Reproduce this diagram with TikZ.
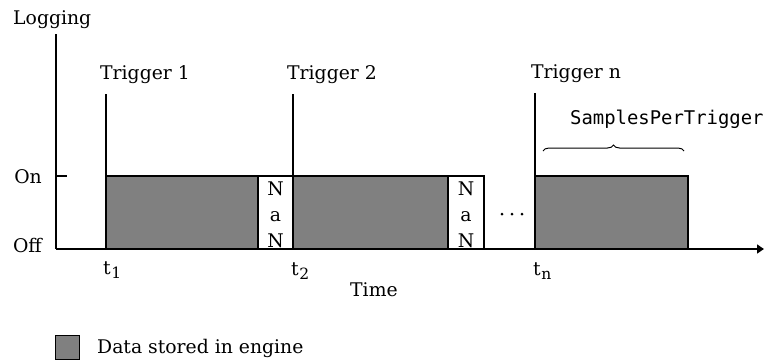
\documentclass[tikz,border=0pt]{standalone}
\usepackage{fontspec}
\setmainfont{DejaVu Serif}
\setmonofont{DejaVu Sans Mono}
\usetikzlibrary{decorations.pathreplacing,arrows.meta}
\newcommand{\subt}[1]{t\kern0.5pt\raisebox{-4pt}{\fontsize{15.5}{17}\selectfont #1}}
\begin{document}
\begin{tikzpicture}[x=1pt,y=-1pt,
  lbl/.style={inner sep=0pt,font=\fontsize{18.8}{21}\selectfont},
  ax/.style={line width=1.4pt},
  blk/.style={draw=black,line width=1.2pt,fill=black!50},
  nanbox/.style={draw=black,line width=1.2pt,fill=white},
  trig/.style={line width=1.1pt}]
\useasboundingbox (0,0) rectangle (764,360);
% axes
\coordinate (origin) at (56,249);
\coordinate (ytop) at (56,34);
\coordinate (xend) at (764,249);
\draw[ax] (ytop) -- (origin);
\draw[ax,-{Triangle[length=7pt,width=9pt]}] (origin) -- (xend);
\coordinate (ontick) at (56,176);
\coordinate (ontickend) at (67,176);
\draw[ax] (ontick) -- (ontickend);
% blocks
\draw[blk] (106,176) rectangle (258,249);
\draw[nanbox] (258,176) rectangle (293,249);
\draw[blk] (293,176) rectangle (448,249);
\draw[nanbox] (448,176) rectangle (484,249);
\draw[blk] (535,176) rectangle (688,249);
% trigger lines
\coordinate (tr1top) at (106,94); \coordinate (tr1bot) at (106,176);
\coordinate (tr2top) at (293,94); \coordinate (tr2bot) at (293,176);
\coordinate (trntop) at (535,93); \coordinate (trnbot) at (535,176);
\draw[trig] (tr1top) -- (tr1bot);
\draw[trig] (tr2top) -- (tr2bot);
\draw[trig] (trntop) -- (trnbot);
% brace
\coordinate (brl) at (543,151); \coordinate (brr) at (684,151);
\draw[line width=1pt,decorate,decoration={brace,amplitude=6pt}] (brl) -- (brr);
% labels
\node[lbl,anchor=base west] (logging) at (13,24) {Logging};
\node[lbl,anchor=base west] (trig1) at (100,79) {Trigger 1};
\node[lbl,anchor=base west] (trig2) at (287,79) {Trigger 2};
\node[lbl,anchor=base west] (trign) at (531,78) {Trigger n};
\node[inner sep=0pt,anchor=base west,font=\ttfamily\fontsize{18.9}{21}\selectfont] (spt) at (570,124) {SamplesPerTrigger};
\node[lbl,anchor=base east] (on) at (42,183) {On};
\node[lbl,anchor=base east] (off) at (42,252) {Off};
\node[lbl,anchor=base west] (t1) at (103,274) {\subt{1}};
\node[lbl,anchor=base west] (t2) at (291,275) {\subt{2}};
\node[lbl,anchor=base west] (tn) at (533,275) {\subt{n}};
\node[lbl,anchor=base west] (time) at (350,296) {Time};
% NaN
\node[lbl,anchor=base] (n1a) at (275.5,195) {N};
\node[lbl,anchor=base] (n1b) at (275.5,221) {a};
\node[lbl,anchor=base] (n1c) at (275.5,247) {N};
\node[lbl,anchor=base] (n2a) at (466,195) {N};
\node[lbl,anchor=base] (n2b) at (466,221) {a};
\node[lbl,anchor=base] (n2c) at (466,247) {N};
% dots
\foreach \i/\xx in {1/502,2/512,3/522}{\fill (\xx,214) circle (1.5pt);}
% legend
\draw[blk,line width=1pt] (55,335) rectangle (79,359);
\node[lbl,anchor=base west] (legend) at (97,353) {Data stored in engine};
\end{tikzpicture}
\end{document}
